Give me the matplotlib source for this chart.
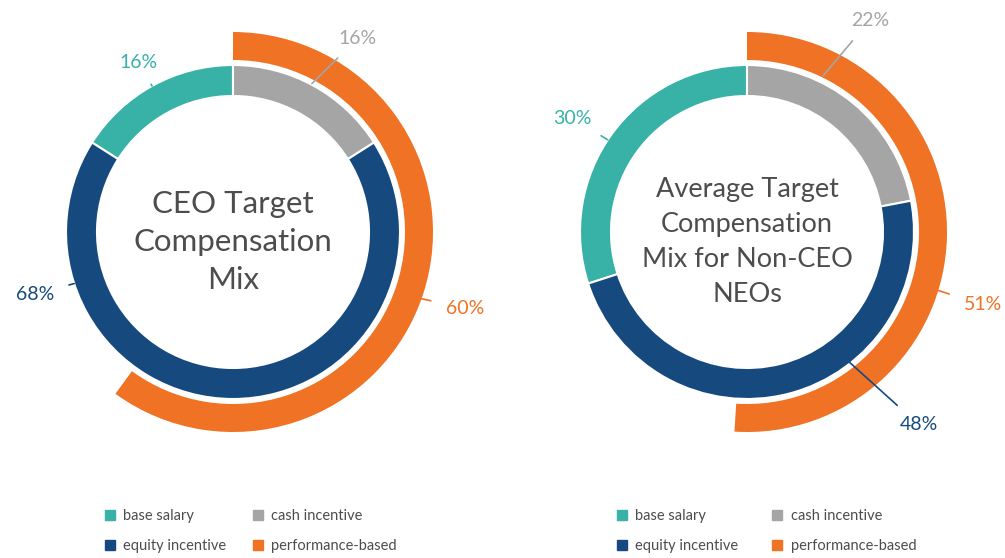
import numpy as np
import matplotlib
matplotlib.use("Agg")
import matplotlib.pyplot as plt
from matplotlib.lines import Line2D

plt.rcParams['font.family'] = ['Lato', 'DejaVu Sans']

# data
segments = ['base salary', 'cash incentive', 'equity incentive']
ceo_mix = [16, 16, 68]
neo_mix = [30, 22, 48]
ceo_perf = 60
neo_perf = 51
titles = ['CEO Target\nCompensation\nMix', 'Average Target\nCompensation\nMix for Non-CEO\nNEOs']
perf_label = 'performance-based'

colors = ['#38B2A7', '#A5A5A5', '#164A7F']
orange = '#F07224'
text_grey = '#4D4D4D'

fig = plt.figure(figsize=(10.05, 5.58), dpi=100)


def donut(ax, mix, perf, title, title_size, spacing, labels):
    # inner ring: base salary counter-clockwise from top, the rest clockwise
    ax.pie(mix, radius=0.835, colors=colors, startangle=90 + mix[0] * 3.6,
           counterclock=False,
           wedgeprops=dict(width=0.155, edgecolor='white', linewidth=1.5))
    # outer arc: performance-based share, clockwise from top
    ax.pie([perf, 100 - perf], radius=1.0, colors=[orange, 'none'],
           startangle=90, counterclock=False,
           wedgeprops=dict(width=0.14, edgecolor='none'))
    ax.text(0, -0.05, title, ha='center', va='center', fontsize=title_size,
            color=text_grey, linespacing=spacing)
    ax.set_xlim(-1.1, 1.1)
    ax.set_ylim(-1.1, 1.1)
    ax.set_aspect('equal')
    ax.axis('off')
    for txt, col, ang, r, tx, ty in labels:
        a = np.deg2rad(ang)
        ax.annotate(txt, xy=(r * np.cos(a), r * np.sin(a)), xytext=(tx, ty),
                    color=col, fontsize=14, ha='center', va='center',
                    arrowprops=dict(arrowstyle='-', color=col, lw=1.2,
                                    shrinkA=9, shrinkB=0))


ax1 = fig.add_axes([13 / 1005, 106 / 558, 440 / 1005, 440 / 558])
donut(ax1, ceo_mix, ceo_perf, titles[0], 22.5, 1.45, [
    ('%d%%' % ceo_mix[0], colors[0], 119, 0.835, -0.47, 0.85),
    ('%d%%' % ceo_mix[1], colors[1], 62, 0.84, 0.625, 0.97),
    ('%d%%' % ceo_mix[2], colors[2], 198, 0.835, -0.99, -0.31),
    ('%d%%' % ceo_perf, orange, -19.5, 1.0, 1.16, -0.38),
])

ax2 = fig.add_axes([527 / 1005, 106 / 558, 440 / 1005, 440 / 558])
donut(ax2, neo_mix, neo_perf, titles[1], 19.5, 1.5, [
    ('%d%%' % neo_mix[0], colors[0], 146.5, 0.835, -0.875, 0.57),
    ('%d%%' % neo_mix[1], colors[1], 64, 0.87, 0.615, 1.06),
    ('%d%%' % neo_mix[2], colors[2], -51.8, 0.83, 0.86, -0.965),
    ('%d%%' % neo_perf, orange, -17, 1.0, 1.18, -0.365),
])


def legend_handles():
    hs = [Line2D([], [], marker='s', linestyle='none', markersize=7,
                 color=c, label=l) for c, l in zip(colors, segments)]
    hs.append(Line2D([], [], marker='s', linestyle='none', markersize=7,
                     color=orange, label=perf_label))
    # order for 2 columns: base, equity | cash, performance
    return [hs[0], hs[2], hs[1], hs[3]]


for x0, cs in ((104 / 1005, 1.8), (616 / 1005, 2.3)):
    fig.legend(handles=legend_handles(), loc='upper left',
               bbox_to_anchor=(x0, 1 - 509 / 558), ncol=2, frameon=False,
               fontsize=10.5, handlelength=0.8, handletextpad=0.5,
               columnspacing=cs, labelspacing=1.1, labelcolor=text_grey,
               borderaxespad=0, borderpad=0)

fig.savefig('out.png', dpi=100, facecolor='white')
